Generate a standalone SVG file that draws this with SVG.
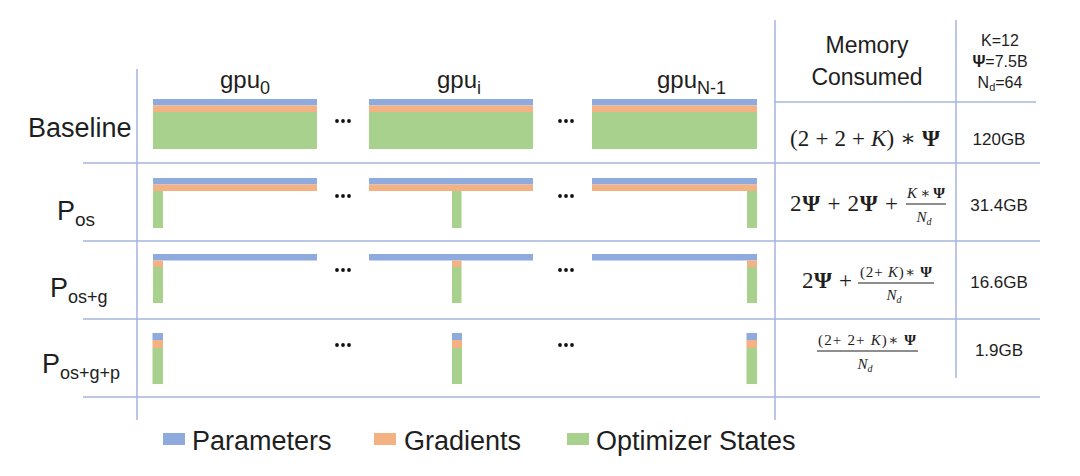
<svg xmlns="http://www.w3.org/2000/svg" width="1080" height="476" viewBox="0 0 1080 476">
<style>
.sans{font-family:"Liberation Sans",Arial,sans-serif;fill:#1e1e1e}
.serif{font-family:"Liberation Serif","DejaVu Serif",serif;fill:#1e1e1e}
.grid{stroke:#a3b6dc;stroke-width:1.5;fill:none}
.p{fill:#8faadc}.g{fill:#f4b183}.o{fill:#a9d18e}
.dot{fill:#111}
.bar{stroke:#1e1e1e;stroke-width:1.2}
</style>
<rect width="1080" height="476" fill="#fff"/>
<g id="connectors">
<line class="grid" x1="137" y1="69" x2="137" y2="420"/>
<line class="grid" x1="775" y1="20" x2="775" y2="420"/>
<line class="grid" x1="956" y1="20" x2="956" y2="378"/>
<line class="grid" x1="775" y1="102" x2="1036" y2="102"/>
<line class="grid" x1="83" y1="163" x2="1040" y2="163"/>
<line class="grid" x1="83" y1="241" x2="1040" y2="241"/>
<line class="grid" x1="83" y1="319" x2="1040" y2="319"/>
<line class="grid" x1="83" y1="397" x2="1040" y2="397"/>
</g>
<g id="header">
<text class="sans" x="220" y="88" font-size="24">gpu<tspan font-size="18" dy="6">0</tspan></text>
<text class="sans" x="437" y="88" font-size="24">gpu<tspan font-size="18" dy="6">i</tspan></text>
<text class="sans" x="657" y="88" font-size="24">gpu<tspan font-size="18" dy="6">N-1</tspan></text>
<text class="sans" x="867" y="53" font-size="23" text-anchor="middle">Memory</text>
<text class="sans" x="867" y="85" font-size="23" text-anchor="middle">Consumed</text>
<text class="sans" x="1000" y="46" font-size="16" text-anchor="middle">K=12</text>
<text class="sans" x="1000" y="67" font-size="16" text-anchor="middle"><tspan font-weight="bold">Ψ</tspan>=7.5B</text>
<text class="sans" x="1000" y="88" font-size="16" text-anchor="middle">N<tspan font-size="11" dy="3">d</tspan><tspan dy="-3">=64</tspan></text>
</g>
<g id="row-baseline">
<text class="sans" x="28" y="137" font-size="27">Baseline</text>
<rect class="p" x="153" y="99" width="164" height="6.5"/><rect class="g" x="153" y="105.5" width="164" height="6.5"/><rect class="o" x="153" y="112" width="164" height="37"/>
<rect class="p" x="369" y="99" width="164" height="6.5"/><rect class="g" x="369" y="105.5" width="164" height="6.5"/><rect class="o" x="369" y="112" width="164" height="37"/>
<rect class="p" x="592" y="99" width="165" height="6.5"/><rect class="g" x="592" y="105.5" width="165" height="6.5"/><rect class="o" x="592" y="112" width="165" height="37"/>
<circle class="dot" cx="337" cy="121" r="1.9"/><circle class="dot" cx="343" cy="121" r="1.9"/><circle class="dot" cx="349" cy="121" r="1.9"/>
<circle class="dot" cx="560" cy="121" r="1.9"/><circle class="dot" cx="566" cy="121" r="1.9"/><circle class="dot" cx="572" cy="121" r="1.9"/>
<text class="serif" x="790" y="146" font-size="23" textLength="150" lengthAdjust="spacing">(2 + 2 + <tspan font-style="italic">K</tspan>) ∗ <tspan font-weight="bold">Ψ</tspan></text>
<text class="sans" x="999" y="145" font-size="17" text-anchor="middle">120GB</text>
</g>
<g id="row-pos">
<text class="sans" x="57" y="220" font-size="27">P<tspan font-size="19" dy="6">os</tspan></text>
<rect class="p" x="153" y="178" width="164" height="6.5"/><rect class="g" x="153" y="184.5" width="164" height="6.5"/><rect class="o" x="153" y="191" width="10" height="37"/>
<rect class="p" x="369" y="178" width="164" height="6.5"/><rect class="g" x="369" y="184.5" width="164" height="6.5"/><rect class="o" x="452" y="191" width="9.5" height="37"/>
<rect class="p" x="592" y="178" width="165" height="6.5"/><rect class="g" x="592" y="184.5" width="165" height="6.5"/><rect class="o" x="747" y="191" width="10" height="37"/>
<circle class="dot" cx="337" cy="196" r="1.9"/><circle class="dot" cx="343" cy="196" r="1.9"/><circle class="dot" cx="349" cy="196" r="1.9"/>
<circle class="dot" cx="560" cy="196" r="1.9"/><circle class="dot" cx="566" cy="196" r="1.9"/><circle class="dot" cx="572" cy="196" r="1.9"/>
<text class="serif" x="790" y="211" font-size="23" textLength="108" lengthAdjust="spacing">2<tspan font-weight="bold">Ψ</tspan> + 2<tspan font-weight="bold">Ψ</tspan> +</text>
<text class="serif" x="907" y="198" font-size="15" textLength="38" lengthAdjust="spacing"><tspan font-style="italic">K</tspan> ∗ <tspan font-weight="bold">Ψ</tspan></text>
<line class="bar" x1="906" y1="204" x2="946" y2="204"/>
<text class="serif" x="924" y="222" font-size="15" text-anchor="middle" font-style="italic">N<tspan font-size="10" dy="3">d</tspan></text>
<text class="sans" x="999" y="211" font-size="17" text-anchor="middle">31.4GB</text>
</g>
<g id="row-pos-g">
<text class="sans" x="50" y="297" font-size="27">P<tspan font-size="18" dy="6">os+g</tspan></text>
<rect class="p" x="153" y="254" width="164" height="6.5"/><rect class="g" x="153" y="260.5" width="10" height="6.5"/><rect class="o" x="153" y="267" width="10" height="36"/>
<rect class="p" x="369" y="254" width="164" height="6.5"/><rect class="g" x="452" y="260.5" width="9.5" height="6.5"/><rect class="o" x="452" y="267" width="9.5" height="36"/>
<rect class="p" x="592" y="254" width="165" height="6.5"/><rect class="g" x="747" y="260.5" width="10" height="6.5"/><rect class="o" x="747" y="267" width="10" height="36"/>
<circle class="dot" cx="337" cy="270" r="1.9"/><circle class="dot" cx="343" cy="270" r="1.9"/><circle class="dot" cx="349" cy="270" r="1.9"/>
<circle class="dot" cx="560" cy="270" r="1.9"/><circle class="dot" cx="566" cy="270" r="1.9"/><circle class="dot" cx="572" cy="270" r="1.9"/>
<text class="serif" x="802" y="288" font-size="23" textLength="50" lengthAdjust="spacing">2<tspan font-weight="bold">Ψ</tspan> +</text>
<text class="serif" x="860" y="277" font-size="15" textLength="72" lengthAdjust="spacing">(2+ <tspan font-style="italic">K</tspan>)∗ <tspan font-weight="bold">Ψ</tspan></text>
<line class="bar" x1="858" y1="283" x2="934" y2="283"/>
<text class="serif" x="894" y="300" font-size="15" text-anchor="middle" font-style="italic">N<tspan font-size="10" dy="3">d</tspan></text>
<text class="sans" x="999" y="288" font-size="17" text-anchor="middle">16.6GB</text>
</g>
<g id="row-pos-g-p">
<text class="sans" x="42" y="373" font-size="27">P<tspan font-size="18" dy="6">os+g+p</tspan></text>
<rect class="p" x="152.5" y="333" width="10.5" height="7"/><rect class="g" x="152.5" y="340" width="10.5" height="8"/><rect class="o" x="152.5" y="348" width="10.5" height="36"/>
<rect class="p" x="452" y="333" width="10" height="7"/><rect class="g" x="452" y="340" width="10" height="8"/><rect class="o" x="452" y="348" width="10" height="36"/>
<rect class="p" x="746.5" y="333" width="10.5" height="7"/><rect class="g" x="746.5" y="340" width="10.5" height="8"/><rect class="o" x="746.5" y="348" width="10.5" height="36"/>
<circle class="dot" cx="337" cy="345" r="1.9"/><circle class="dot" cx="343" cy="345" r="1.9"/><circle class="dot" cx="349" cy="345" r="1.9"/>
<circle class="dot" cx="560" cy="345" r="1.9"/><circle class="dot" cx="566" cy="345" r="1.9"/><circle class="dot" cx="572" cy="345" r="1.9"/>
<text class="serif" x="818" y="345" font-size="15" textLength="98" lengthAdjust="spacing">(2+ 2+ <tspan font-style="italic">K</tspan>)∗ <tspan font-weight="bold">Ψ</tspan></text>
<line class="bar" x1="817" y1="351" x2="918" y2="351"/>
<text class="serif" x="865" y="369" font-size="15" text-anchor="middle" font-style="italic">N<tspan font-size="10" dy="3">d</tspan></text>
<text class="sans" x="999" y="356" font-size="17" text-anchor="middle">1.9GB</text>
</g>
<g id="legend">
<rect class="p" x="163" y="433" width="22" height="12"/>
<text class="sans" x="192" y="450" font-size="27">Parameters</text>
<rect class="g" x="374" y="433" width="22" height="12"/>
<text class="sans" x="404" y="450" font-size="27">Gradients</text>
<rect class="o" x="567" y="433" width="22" height="12"/>
<text class="sans" x="596" y="450" font-size="27">Optimizer States</text>
</g>
</svg>
